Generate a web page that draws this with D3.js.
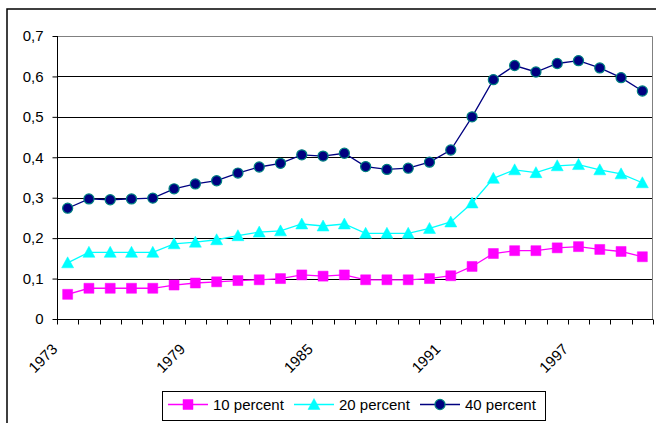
<!DOCTYPE html>
<html>
<head>
<meta charset="utf-8">
<script src="https://cdn.jsdelivr.net/npm/d3@7/dist/d3.min.js"></script>
<style>
  body { margin: 0; background: #fff; }
  svg { display: block; font-family: "Liberation Sans", Arial, sans-serif; }
</style>
</head>
<body>
<div class="usable"></div>
<script>
// years on the category axis
const years = d3.range(1973, 2001);
const yTicks = [0, 0.1, 0.2, 0.3, 0.4, 0.5, 0.6, 0.7];
const xLabelYears = [1973, 1979, 1985, 1991, 1997];

const p10 = [0.061, 0.076, 0.076, 0.076, 0.076, 0.084, 0.089, 0.092, 0.095, 0.097, 0.1, 0.109, 0.106,
  0.109, 0.097, 0.097, 0.097, 0.1, 0.107, 0.13, 0.162, 0.169, 0.169, 0.176, 0.179, 0.172, 0.167, 0.154];
const p20 = [0.139, 0.165, 0.165, 0.165, 0.165, 0.186, 0.19, 0.196, 0.206, 0.215, 0.218, 0.235, 0.23,
  0.235, 0.212, 0.212, 0.212, 0.224, 0.24, 0.287, 0.348, 0.369, 0.362, 0.379, 0.382, 0.369, 0.359, 0.337];
const p40 = [0.274, 0.297, 0.295, 0.297, 0.299, 0.322, 0.334, 0.342, 0.361, 0.376, 0.385, 0.406, 0.403,
  0.41, 0.377, 0.37, 0.373, 0.388, 0.418, 0.5, 0.592, 0.627, 0.611, 0.632, 0.639, 0.621, 0.597, 0.564];

const seriesNames = ["10 percent", "20 percent", "40 percent"];

const W = 656, H = 423;
const plot = { left: 57, right: 653, top: 36, bottom: 319 };
const fs = 15;

let svg = d3.select(".usable").append("svg")
    .attr("width", W)
    .attr("height", H);

// outer chart frame
svg.append("rect")
    .attr("x", 7).attr("y", 9)
    .attr("width", 800).attr("height", 600)
    .attr("fill", "none").attr("stroke", "#000").attr("stroke-width", 1.5);

let x = d3.scaleBand().domain(years).range([plot.left, plot.right]);
let y = d3.scaleLinear().domain([0, 0.7]).range([plot.bottom, plot.top]);

// grid lines
svg.append("g").selectAll("line")
    .data(yTicks.filter(d => d > 0 && d < 0.7))
    .join("line")
    .attr("x1", plot.left).attr("x2", plot.right)
    .attr("y1", d => Math.round(y(d)) + 0.5).attr("y2", d => Math.round(y(d)) + 0.5)
    .attr("stroke", "#000");

// plot border (gray)
svg.append("path")
    .attr("d", `M${plot.left},${plot.top + 0.5}H${plot.right - 0.5}V${plot.bottom}`)
    .attr("fill", "none").attr("stroke", "#808080");

// y axis
let yAxis = d3.axisLeft(y).tickValues(yTicks).tickSize(5).tickPadding(9)
    .tickFormat(d => d === 0 ? "0" : d3.format(".1f")(d).replace(".", ","));
let gy = svg.append("g").attr("transform", `translate(${plot.left + 0.5},0)`).call(yAxis);
gy.select(".domain").remove();
gy.append("line").attr("y1", plot.top).attr("y2", plot.bottom + 0.5).attr("stroke", "#000");
gy.selectAll(".tick line").attr("stroke", "#000");
gy.selectAll(".tick text").attr("font-size", fs).attr("fill", "#000")
    .attr("font-family", "Liberation Sans, Arial, sans-serif");

// x axis: ticks between categories
let gx = svg.append("g").attr("transform", `translate(0,${plot.bottom + 0.5})`);
gx.append("line").attr("x1", plot.left).attr("x2", plot.right).attr("stroke", "#000");
let boundaries = years.map(d => x(d)).concat([plot.right]);
gx.selectAll("line.tk").data(boundaries).join("line").attr("class", "tk")
    .attr("x1", d => Math.round(d) + 0.5).attr("x2", d => Math.round(d) + 0.5)
    .attr("y1", 0).attr("y2", 5).attr("stroke", "#000");
gx.selectAll("text").data(xLabelYears).join("text")
    .attr("transform", d => `translate(${x(d) + x.bandwidth() / 2 - 13},${27}) rotate(-45)`)
    .attr("text-anchor", "end")
    .attr("dy", "0.35em")
    .attr("font-size", fs)
    .text(d => d);

const cx = d => x(d) + x.bandwidth() / 2;

function drawSeries(values, color, marker) {
    let g = svg.append("g");
    g.append("path")
        .datum(values)
        .attr("fill", "none")
        .attr("stroke", color)
        .attr("stroke-width", 1.3)
        .attr("d", d3.line().x((d, i) => cx(years[i])).y(d => y(d)));
    g.selectAll("path.m").data(values).join("path").attr("class", "m")
        .attr("transform", (d, i) => `translate(${cx(years[i])},${y(d)})`)
        .attr("d", marker.d)
        .attr("fill", marker.fill)
        .attr("stroke", marker.stroke)
        .attr("stroke-width", marker.sw);
}

const mSquare = { d: "M-5,-5H5V5H-5Z", fill: "#ff00ff", stroke: "#ff00ff", sw: 0.5 };
const mTri = { d: "M0,-6L6,5H-6Z", fill: "#00ffff", stroke: "#00ffff", sw: 0.5 };
const mCirc = { d: d3.symbol(d3.symbolCircle, 80)(), fill: "#000080", stroke: "#008080", sw: 1.2 };

drawSeries(p10, "#ff00ff", mSquare);
drawSeries(p20, "#00ffff", mTri);
drawSeries(p40, "#000080", mCirc);

// legend
let lg = svg.append("g");
lg.append("rect").attr("x", 162.5).attr("y", 391.5).attr("width", 383).attr("height", 29)
    .attr("fill", "#fff").attr("stroke", "#000");
const legItems = [
    { name: seriesNames[0], color: "#ff00ff", m: mSquare, x0: 168 },
    { name: seriesNames[1], color: "#00ffff", m: mTri, x0: 294 },
    { name: seriesNames[2], color: "#000080", m: mCirc, x0: 420 }
];
legItems.forEach(it => {
    lg.append("line").attr("x1", it.x0).attr("x2", it.x0 + 40).attr("y1", 404.5).attr("y2", 404.5)
        .attr("stroke", it.color).attr("stroke-width", 1.3);
    lg.append("path").attr("transform", `translate(${it.x0 + 20},404.5)`)
        .attr("d", it.m.d).attr("fill", it.m.fill).attr("stroke", it.m.stroke).attr("stroke-width", it.m.sw);
    lg.append("text").attr("x", it.x0 + 45).attr("y", 404.5).attr("dy", "0.35em")
        .attr("font-size", fs).text(it.name);
});
</script>
</body>
</html>
